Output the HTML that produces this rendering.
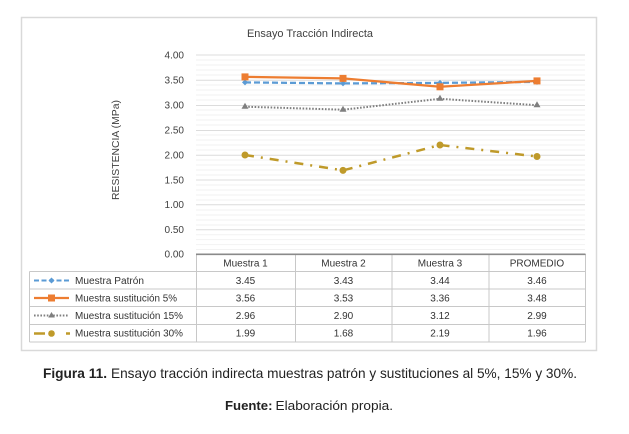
<!DOCTYPE html>
<html><head><meta charset="utf-8">
<style>
html,body{margin:0;padding:0;background:#fff;width:629px;height:434px;overflow:hidden}
svg{display:block}
text{font-family:"Liberation Sans",sans-serif}
</style></head>
<body>
<svg width="629" height="434" viewBox="0 0 629 434" xmlns="http://www.w3.org/2000/svg">
<rect x="0" y="0" width="629" height="434" fill="#fff"/>
<rect x="21.5" y="17.5" width="575" height="333" fill="#fff" stroke="#d9d9d9" stroke-width="1.5"/>
<text x="310" y="37" font-size="11" text-anchor="middle" fill="#404040" textLength="126" lengthAdjust="spacingAndGlyphs">Ensayo Tracción Indirecta</text>
<!-- minor gridlines -->
<g stroke="#f2f2f2" stroke-width="1">
<path d="M196 60H585M196 65H585M196 70H585M196 75H585M196 85H585M196 90H585M196 95H585M196 100H585M196 110H585M196 115H585M196 120H585M196 125H585M196 135H585M196 140H585M196 145H585M196 150H585M196 160H585M196 165H585M196 170H585M196 175H585M196 185H585M196 190H585M196 195H585M196 200H585M196 210H585M196 215H585M196 220H585M196 225H585M196 234.7H585M196 239.6H585M196 244.6H585M196 249.5H585"/>
</g>
<g stroke="#dcdcdc" stroke-width="1">
<path d="M196 55H585M196 80.3H585M196 105.5H585M196 130.5H585M196 155.3H585M196 180H585M196 204.7H585M196 229.7H585"/>
</g>
<!-- y tick labels -->
<g font-size="10" fill="#404040" text-anchor="end">
<text x="184" y="58.5">4.00</text>
<text x="184" y="83.5">3.50</text>
<text x="184" y="108.5">3.00</text>
<text x="184" y="133.5">2.50</text>
<text x="184" y="158.5">2.00</text>
<text x="184" y="183.5">1.50</text>
<text x="184" y="208">1.00</text>
<text x="184" y="233">0.50</text>
<text x="184" y="257.5">0.00</text>
</g>
<text transform="translate(119,150) rotate(-90)" font-size="10" text-anchor="middle" fill="#404040" textLength="100" lengthAdjust="spacingAndGlyphs">RESISTENCIA (MPa)</text>
<!-- series -->
<polyline points="245,155 343,170.4 440,145 537,156.5" fill="none" stroke="#bf9a2a" stroke-width="2.5" stroke-dasharray="9 7 2 7"/>
<g fill="#bf9a2a"><circle cx="245" cy="155" r="3.5"/><circle cx="343" cy="170.4" r="3.5"/><circle cx="440" cy="145" r="3.5"/><circle cx="537" cy="156.5" r="3.5"/></g>
<polyline points="245,106.7 343,109.7 440,98.8 537,105.2" fill="none" stroke="#7f7f7f" stroke-width="2" stroke-dasharray="1.6 1.6"/>
<g fill="#7f7f7f"><path d="M245 102.7l3.5 6h-7z"/><path d="M343 105.7l3.5 6h-7z"/><path d="M440 94.8l3.5 6h-7z"/><path d="M537 101.2l3.5 6h-7z"/></g>
<polyline points="245,82.4 343,83.4 440,82.9 537,81.9" fill="none" stroke="#5b9bd5" stroke-width="2.25" stroke-dasharray="6 3"/>
<g fill="#5b9bd5"><path d="M245 79.4l3 3-3 3-3-3z"/><path d="M343 80.4l3 3-3 3-3-3z"/><path d="M440 79.9l3 3-3 3-3-3z"/><path d="M537 78.9l3 3-3 3-3-3z"/></g>
<polyline points="245,76.9 343,78.4 440,86.8 537,80.9" fill="none" stroke="#ed7d31" stroke-width="2.25"/>
<g fill="#ed7d31"><rect x="241.5" y="73.4" width="7" height="7"/><rect x="339.5" y="74.9" width="7" height="7"/><rect x="436.5" y="83.3" width="7" height="7"/><rect x="533.5" y="77.4" width="7" height="7"/></g>
<!-- table -->
<g stroke="#c8c8c8" stroke-width="1" fill="none">
<path d="M29.5 271.5H585.5M29.5 289H585.5M29.5 306.5H585.5M29.5 324.5H585.5M29.5 342H585.5"/>
<path d="M29.5 271.5V342M196.5 254V342M295.5 254V342M392 254V342M489 254V342M585.5 254V342"/>
</g>
<path d="M196 254.3H585.5" stroke="#8a8a8a" stroke-width="1.6"/>
<g font-size="10" fill="#333" text-anchor="middle">
<text x="245.5" y="266.5">Muestra 1</text>
<text x="343.5" y="266.5">Muestra 2</text>
<text x="440" y="266.5">Muestra 3</text>
<text x="537" y="266.5">PROMEDIO</text>
<text x="245.5" y="284">3.45</text><text x="343.5" y="284">3.43</text><text x="440" y="284">3.44</text><text x="537" y="284">3.46</text>
<text x="245.5" y="301.5">3.56</text><text x="343.5" y="301.5">3.53</text><text x="440" y="301.5">3.36</text><text x="537" y="301.5">3.48</text>
<text x="245.5" y="319">2.96</text><text x="343.5" y="319">2.90</text><text x="440" y="319">3.12</text><text x="537" y="319">2.99</text>
<text x="245.5" y="336.5">1.99</text><text x="343.5" y="336.5">1.68</text><text x="440" y="336.5">2.19</text><text x="537" y="336.5">1.96</text>
</g>
<!-- legend keys -->
<g>
<path d="M34 280.5H69" stroke="#5b9bd5" stroke-width="2" stroke-dasharray="5 2.5"/>
<path d="M51.5 277.5l3 3-3 3-3-3z" fill="#5b9bd5"/>
<path d="M34 298H69" stroke="#ed7d31" stroke-width="2.25"/>
<rect x="48" y="294.5" width="7" height="7" fill="#ed7d31"/>
<path d="M34 315.5H69" stroke="#7f7f7f" stroke-width="2" stroke-dasharray="1.6 1.6"/>
<path d="M51.5 312l3.3 5.5h-6.6z" fill="#7f7f7f"/>
<path d="M34 333.5H45M66 333.5H70" stroke="#bf9a2a" stroke-width="2.5"/>
<circle cx="51.5" cy="333.5" r="3.3" fill="#bf9a2a"/>
</g>
<g font-size="10" fill="#333">
<text x="75" y="284" textLength="69" lengthAdjust="spacingAndGlyphs">Muestra Patrón</text>
<text x="75" y="301.5" textLength="102" lengthAdjust="spacingAndGlyphs">Muestra sustitución 5%</text>
<text x="75" y="319" textLength="108" lengthAdjust="spacingAndGlyphs">Muestra sustitución 15%</text>
<text x="75" y="336.5" textLength="108" lengthAdjust="spacingAndGlyphs">Muestra sustitución 30%</text>
</g>
<!-- caption -->
<text x="43" y="378" font-size="14" font-weight="bold" fill="#222" textLength="64" lengthAdjust="spacingAndGlyphs">Figura 11.</text>
<text x="111" y="378" font-size="14" fill="#222" textLength="466" lengthAdjust="spacingAndGlyphs">Ensayo tracción indirecta muestras patrón y sustituciones al 5%, 15% y 30%.</text>
<text x="225" y="410" font-size="12.5" font-weight="bold" fill="#222" textLength="47.5" lengthAdjust="spacingAndGlyphs">Fuente:</text>
<text x="275.5" y="410" font-size="12.5" fill="#222" textLength="117.5" lengthAdjust="spacingAndGlyphs">Elaboración propia.</text>
</svg>
</body></html>
